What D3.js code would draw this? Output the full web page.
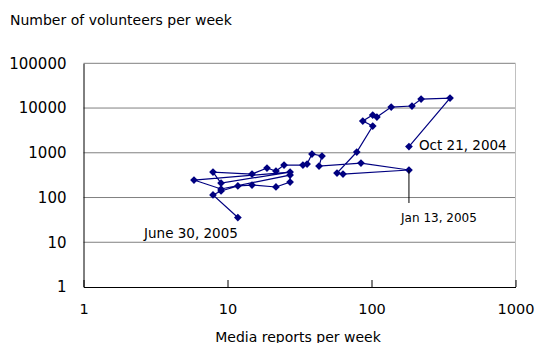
<!DOCTYPE html>
<html><head><meta charset="utf-8">
<script src="https://cdn.jsdelivr.net/npm/d3@7"></script>
<style>body{margin:0;background:#fff}svg{display:block}text{font-family:"DejaVu Sans",sans-serif;fill:#000}</style>
</head><body><svg id="c" width="536" height="343"></svg>
<script>
// Weekly data, Oct 21 2004 -> June 30 2005 (time order)
const mediaReports = [182,351,221,191,137,109,102,87,102,79,57.6,63.4,182,84.5,43.2,45.3,38.6,35.7,33.4,24.7,21.7,18.8,14.8,7.93,9.02,27.2,5.85,9.02,27.2,27.2,21.7,14.8,11.8,9.02,7.93,11.8];
const volunteers  = [1380,16700,15900,11100,10500,6300,6980,5120,3960,1040,353,335,412,590,506,846,938,561,532,532,391,456,335,371,211,371,246,155,318,222,172,190,181,140,114,35.7];
const xTicks = [1,10,100,1000];
const yTicks = [1,10,100,1000,10000,100000];
const annotations = [
  {i:0, text:"Oct 21, 2004"},
  {i:12, text:"Jan 13, 2005"},
  {i:35, text:"June 30, 2005"}
];

const svg = d3.select("#c");
const L=83.5, R=515.5, T=63.3, B=287;
const x = d3.scaleLog().domain([1,1000]).range([L,R]);
const y = d3.scaleLog().domain([1,100000]).range([B,T]);

// gridlines
svg.append("g").selectAll("line").data(yTicks.slice(1)).join("line")
  .attr("x1",L).attr("x2",R).attr("y1",d=>y(d)).attr("y2",d=>y(d))
  .attr("stroke","#808080").attr("stroke-width",1);
// right border
svg.append("line").attr("x1",R).attr("x2",R).attr("y1",T).attr("y2",B).attr("stroke","#c0c0c0");

// axes
const xa = svg.append("g").attr("transform",`translate(0,${B})`)
  .call(d3.axisBottom(x).tickValues(xTicks).tickFormat(d3.format("d")).tickSizeInner(-7).tickSizeOuter(0).tickPadding(17));
xa.select(".domain").attr("stroke","#000");
xa.selectAll(".tick line").attr("stroke","#000");
xa.selectAll("text").attr("font-size","14.5px").attr("font-family","DejaVu Sans");
const ya = svg.append("g").attr("transform",`translate(${L},0)`)
  .call(d3.axisLeft(y).tickValues(yTicks).tickFormat(d3.format("d")).tickSize(0).tickPadding(17));
ya.select(".domain").attr("stroke","#000");
ya.selectAll("text").attr("font-size","15px").attr("font-family","DejaVu Sans");

// data
const pts = mediaReports.map((d,i)=>[x(d), y(volunteers[i])]);
svg.append("path").attr("d", d3.line()(pts)).attr("fill","none").attr("stroke","#000080").attr("stroke-width",1.2);
svg.append("g").selectAll("path").data(pts).join("path")
  .attr("transform",d=>`translate(${d[0]},${d[1]}) rotate(45)`)
  .attr("d", d3.symbol(d3.symbolSquare, 30)())
  .attr("fill","#000080");

// annotations
const a0 = pts[annotations[0].i];
svg.append("text").attr("x",a0[0]+10).attr("y",a0[1]+3).attr("font-size","13.5px").text(annotations[0].text);
const a1 = pts[annotations[1].i];
svg.append("line").attr("x1",a1[0]).attr("x2",a1[0]).attr("y1",a1[1]).attr("y2",a1[1]+33).attr("stroke","#000");
svg.append("text").attr("x",a1[0]+30).attr("y",a1[1]+52).attr("text-anchor","middle").attr("font-size","12px").text(annotations[1].text);
const a2 = pts[annotations[2].i];
svg.append("text").attr("x",a2[0]).attr("y",a2[1]+20).attr("text-anchor","end").attr("font-size","13.5px").text(annotations[2].text);

// titles
svg.append("text").attr("x",10).attr("y",25).attr("font-size","14px").text("Number of volunteers per week");
svg.append("text").attr("x",298).attr("y",342).attr("text-anchor","middle").attr("font-size","14px").text("Media reports per week");
</script></body></html>
